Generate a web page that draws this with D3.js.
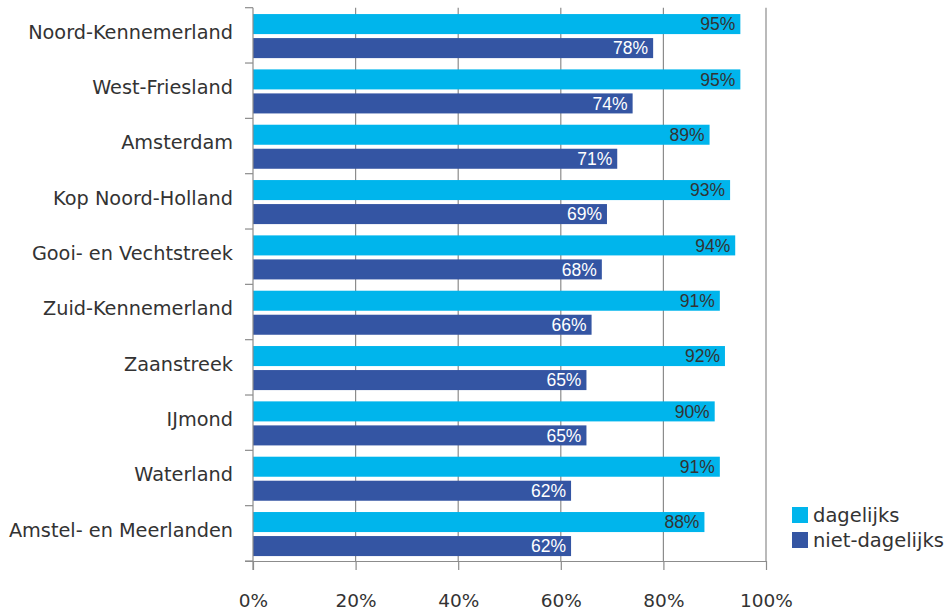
<!DOCTYPE html>
<html><head><meta charset="utf-8">
<script src="https://cdn.jsdelivr.net/npm/d3@7"></script>
<style>body{margin:0;background:#fff}svg{display:block}</style>
</head><body>
<svg id="c" width="952" height="612"></svg>
<script>
const categories = ["Noord-Kennemerland","West-Friesland","Amsterdam","Kop Noord-Holland","Gooi- en Vechtstreek","Zuid-Kennemerland","Zaanstreek","IJmond","Waterland","Amstel- en Meerlanden"];
const dagelijks = [95,95,89,93,94,91,92,90,91,88];
const nietDagelijks = [78,74,71,69,68,66,65,65,62,62];
const seriesNames = ["dagelijks","niet-dagelijks"];
const xTicks = [0,20,40,60,80,100];
const colors = ["#00B5EC","#3455A3"];

const svg = d3.select("#c");
const x = d3.scaleLinear().domain([0,100]).range([253,766]);
const y = d3.scaleBand().domain(categories).range([7.7,561]);
const bw = y.bandwidth();
const barH = bw*0.362, off1 = bw*0.115, gap = bw*0.072;
const catFont = "'DejaVu Sans', sans-serif";

// grid lines
svg.append("g").selectAll("line").data(xTicks.slice(1)).join("line")
  .attr("x1",d=>x(d)).attr("x2",d=>x(d)).attr("y1",y.range()[0]).attr("y2",561)
  .attr("stroke","#8c8c8c").attr("stroke-width",1.2);

// bars
const series = [dagelijks, nietDagelijks];
series.forEach((vals,si)=>{
  const g = svg.append("g");
  g.selectAll("rect").data(vals).join("rect")
    .attr("x",x(0)).attr("width",d=>x(d)-x(0))
    .attr("y",(d,i)=>y(categories[i])+off1+si*(barH+gap)).attr("height",barH)
    .attr("fill",colors[si]);
  g.selectAll("text").data(vals).join("text")
    .attr("x",d=>x(d)-5)
    .attr("y",(d,i)=>y(categories[i])+off1+si*(barH+gap)+barH/2)
    .attr("dy","0.36em").attr("text-anchor","end")
    .attr("font-family","'Liberation Sans', Arial, sans-serif").attr("font-size",17.5)
    .attr("fill",si===0?"#333":"#fff")
    .text(d=>d+"%");
});

// left axis
const yAxis = d3.axisLeft(y).tickSize(0).tickPadding(20).tickFormat(d=>d);
const ya = svg.append("g").attr("transform",`translate(${x(0)},-3)`).call(yAxis);
ya.select(".domain").remove();
ya.selectAll("text").attr("font-family",catFont).attr("font-size",19.3).attr("fill","#333");
// boundary ticks
const bounds = categories.map(c=>y(c)).concat([561]);
svg.append("g").selectAll("line").data(bounds).join("line")
  .attr("x1",245).attr("x2",x(0)).attr("y1",d=>d).attr("y2",d=>d)
  .attr("stroke","#8c8c8c").attr("stroke-width",1.2);
svg.append("line").attr("x1",x(0)).attr("x2",x(0)).attr("y1",y.range()[0]).attr("y2",570)
  .attr("stroke","#8c8c8c").attr("stroke-width",1.2);

// bottom axis
const xAxis = d3.axisBottom(x).tickValues(xTicks).tickSize(9).tickPadding(24).tickFormat(d=>d+"%");
const xa = svg.append("g").attr("transform","translate(0,561)").call(xAxis);
xa.select(".domain").attr("d",`M245,0.5H${x(100)}`).attr("stroke","#8c8c8c").attr("stroke-width",1.2);
xa.selectAll(".tick line").attr("stroke","#8c8c8c").attr("stroke-width",1.2);
xa.selectAll("text").attr("font-family",catFont).attr("font-size",18.5).attr("fill","#333");

// legend
const lg = svg.append("g").attr("transform","translate(792,507)");
seriesNames.forEach((n,i)=>{
  lg.append("rect").attr("x",0).attr("y",i*25).attr("width",16).attr("height",16).attr("fill",colors[i]);
  lg.append("text").attr("x",21).attr("y",i*25+8).attr("dy","0.36em")
    .attr("font-family",catFont).attr("font-size",19.5).attr("fill","#333").text(n);
});
</script>
</body></html>
